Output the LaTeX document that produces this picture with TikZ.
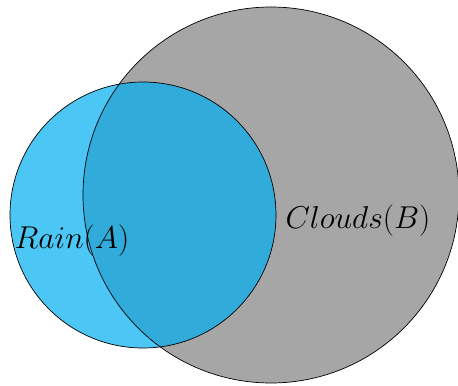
\documentclass[tikz,border=0pt]{standalone}
\usepackage{tikz}
\usetikzlibrary{positioning}
\definecolor{rainfill}{RGB}{0, 174, 239}
\definecolor{cloudfill}{RGB}{166, 166, 166}
\tikzset{
    setcircle/.style={circle, inner sep=0pt},
    setoutline/.style={draw=black, thin},
    setlabel/.style={font=\fontsize{18.5}{20}\selectfont, inner sep=0pt, scale=1.04, transform shape}
}
\begin{document}
\begin{tikzpicture}[x=0.02cm, y=0.02cm]
            \useasboundingbox (0,0) rectangle (458,386);
            \node (clouds) [setcircle, fill=cloudfill, minimum size=7.52cm] at (271,191) {};
            \node (rain) [setcircle, fill=rainfill, fill opacity=0.7, minimum size=5.32cm] at (143,171) {};
            % outlines on top of both fills
            \draw [setoutline] (clouds.center) circle [radius=188];
            \draw [setoutline] (rain.center) circle [radius=133];
            
            \node (rainlabel) [setlabel] at (72,145) {$Rain(A)$};
            \node (cloudslabel) [setlabel] at (358,165) {$Clouds(B)$};
        \end{tikzpicture}
\end{document}
